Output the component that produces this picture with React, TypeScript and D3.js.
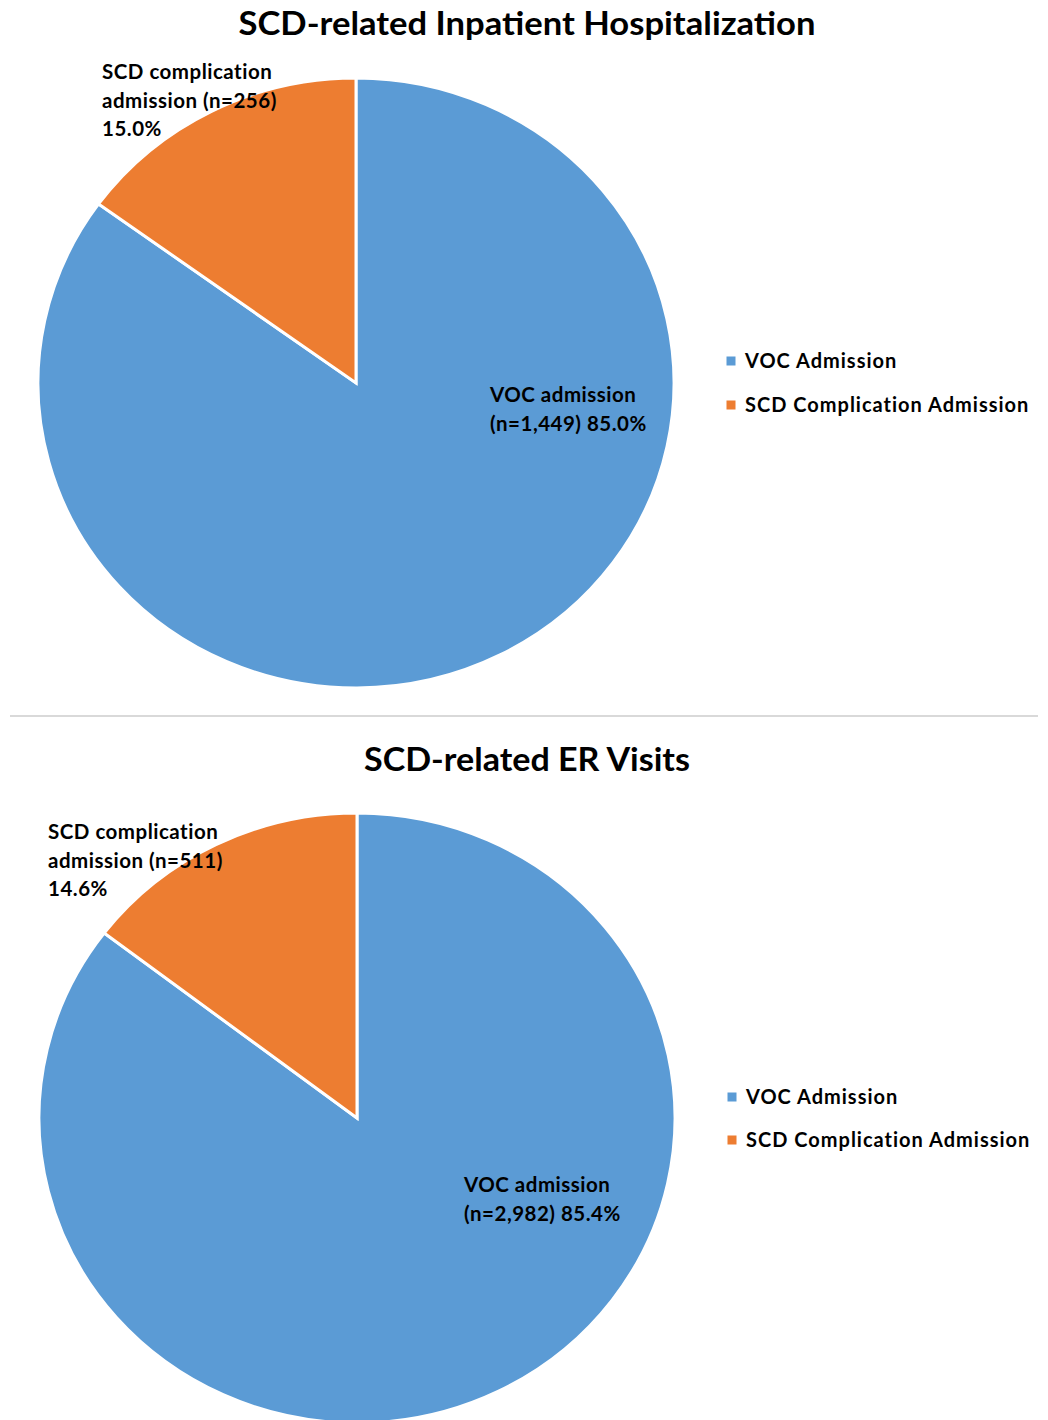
import React, { useRef, useEffect } from 'react';
import * as d3 from 'd3';

// values
const categories = ['VOC Admission', 'SCD Complication Admission'];
const inpatientCounts = [1449, 256];
const erCounts = [2982, 511];
const titles = ['SCD-related Inpatient Hospitalization', 'SCD-related ER Visits'];
const colors = ['#5B9BD5', '#ED7D31'];

const W = 1048;
const H = 1420;
const FONT = 'Lato, "Open Sans", sans-serif';

const App = () => {
    const svgRef = useRef<SVGSVGElement>(null);

    useEffect(() => {
        const svg = d3.select(svgRef.current);
        svg.selectAll('*').remove();

        const pct = d3.format('.1%');
        const num = d3.format(',');
        const pie = d3.pie<number>().sort(null).value(d => d);
        const rx = 318;
        const ry = 305;
        const arc = d3.arc<d3.PieArcDatum<number>>().innerRadius(0).outerRadius(rx);

        /* one block per chart: center, title, label spots */
        const charts = [
            {
                counts: inpatientCounts, title: titles[0], titleY: 35, titleW: 577,
                cx: 356, cy: 383,
                orange: [102, 79], blue: [490, 402],
                legendX: 731, legendY: [361, 405]
            },
            {
                counts: erCounts, title: titles[1], titleY: 771, titleW: 326,
                cx: 357, cy: 1118,
                orange: [48, 839], blue: [464, 1192],
                legendX: 732, legendY: [1097, 1140]
            }
        ];

        charts.forEach(c => {
            const total = d3.sum(c.counts);
            svg.append('text')
                .attr('x', 527).attr('y', c.titleY)
                .attr('text-anchor', 'middle')
                .attr('font-family', FONT).attr('font-weight', 'bold')
                .attr('font-size', 32)
                .attr('textLength', c.titleW).attr('lengthAdjust', 'spacingAndGlyphs')
                .attr('fill', '#000')
                .text(c.title);

            const g = svg.append('g')
                .attr('transform', `translate(${c.cx},${c.cy}) scale(1,${ry / rx})`);
            g.selectAll('path')
                .data(pie(c.counts))
                .join('path')
                .attr('d', arc)
                .attr('fill', (_, i) => colors[i])
                .attr('stroke', '#fff')
                .attr('stroke-width', 3)
                .attr('vector-effect', 'non-scaling-stroke');

            // orange slice label (3 lines)
            const oLines = [
                'SCD complication',
                `admission (n=${num(c.counts[1])})`,
                pct(c.counts[1] / total)
            ];
            const oText = svg.append('text')
                .attr('font-family', FONT).attr('font-weight', 'bold')
                .attr('font-size', 20.5).attr('letter-spacing', 0.5).attr('fill', '#000');
            oLines.forEach((t, i) => {
                oText.append('tspan').attr('x', c.orange[0]).attr('y', c.orange[1] + i * 28.5).text(t);
            });

            // blue slice label (2 lines)
            const bLines = [
                'VOC admission',
                `(n=${num(c.counts[0])}) ${pct(c.counts[0] / total)}`
            ];
            const bText = svg.append('text')
                .attr('font-family', FONT).attr('font-weight', 'bold')
                .attr('font-size', 20.5).attr('letter-spacing', 0.5).attr('fill', '#000');
            bLines.forEach((t, i) => {
                bText.append('tspan').attr('x', c.blue[0]).attr('y', c.blue[1] + i * 29).text(t);
            });

            // legend
            categories.forEach((cat, i) => {
                svg.append('rect')
                    .attr('x', c.legendX - 4.5).attr('y', c.legendY[i] - 4.5)
                    .attr('width', 9).attr('height', 9)
                    .attr('fill', colors[i]);
                svg.append('text')
                    .attr('x', c.legendX + 14).attr('y', c.legendY[i] + 7)
                    .attr('font-family', FONT).attr('font-weight', 'bold')
                    .attr('font-size', 20).attr('letter-spacing', 1).attr('fill', '#000')
                    .text(cat);
            });
        });

        // divider between the two charts
        svg.append('line')
            .attr('x1', 10).attr('x2', 1038)
            .attr('y1', 716).attr('y2', 716)
            .attr('stroke', '#d9d9d9').attr('stroke-width', 2);
    }, []);

    return (
        <svg ref={svgRef} width={W} height={H}
            style={{ position: 'absolute', left: 0, top: 0, background: '#fff' }} />
    );
};

export default App;
